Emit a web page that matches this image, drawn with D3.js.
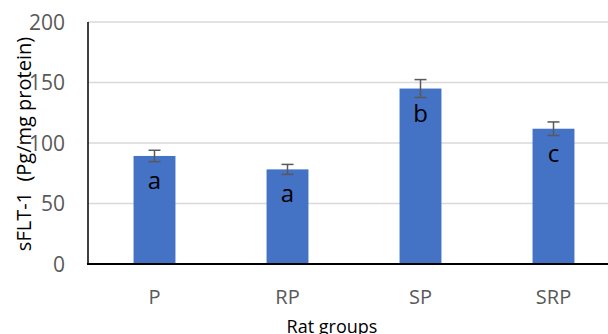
<!DOCTYPE html>
<html>
<head>
    <script src="https://d3js.org/d3.v7.min.js"></script>
    <style>
        body { margin: 0; background: white; }
        text { font-family: "Open Sans", "Liberation Sans", sans-serif; }
    </style>
</head>
<body>
    <svg id="chart"></svg>
    <script>
        // chart data
        var groups = ['P', 'RP', 'SP', 'SRP'];
        var means = [89.3, 78.2, 145, 111.8];
        var errors = [4.7, 4.1, 7.4, 5.6];
        var letters = ['a', 'a', 'b', 'c'];
        var yTicks = [0, 50, 100, 150, 200];

        var width = 608, height = 334;
        var plotLeft = 88, plotRight = 620, plotTop = 22, plotBottom = 264;

        var svg = d3.select('#chart')
            .attr('width', width)
            .attr('height', height);

        var x = d3.scaleBand()
            .domain(groups)
            .range([plotLeft, plotRight])
            .paddingInner(0.685)
            .paddingOuter(0.3425);

        var y = d3.scaleLinear()
            .domain([0, 200])
            .range([plotBottom, plotTop]);

        // gridlines
        svg.append('g')
            .selectAll('line')
            .data(yTicks.slice(1))
            .enter().append('line')
            .attr('x1', plotLeft).attr('x2', width)
            .attr('y1', d => y(d)).attr('y2', d => y(d))
            .attr('stroke', '#d9d9d9')
            .attr('stroke-width', 1.3);

        // y tick labels
        svg.append('g')
            .selectAll('text')
            .data(yTicks)
            .enter().append('text')
            .attr('x', 65)
            .attr('y', d => y(d))
            .attr('dy', '0.36em')
            .attr('text-anchor', 'end')
            .attr('fill', '#595959')
            .style('font-size', '21px')
            .text(d => d);

        // bars
        svg.append('g')
            .selectAll('rect')
            .data(groups)
            .enter().append('rect')
            .attr('x', d => x(d))
            .attr('y', (d, i) => y(means[i]))
            .attr('width', x.bandwidth())
            .attr('height', (d, i) => y(0) - y(means[i]))
            .attr('fill', '#4472c4');

        // error bars
        var eb = svg.append('g')
            .attr('stroke', '#595959')
            .attr('stroke-width', 1.5);
        groups.forEach(function (g, i) {
            var cx = x(g) + x.bandwidth() / 2;
            var hi = y(means[i] + errors[i]), lo = y(means[i] - errors[i]);
            eb.append('line').attr('x1', cx).attr('x2', cx).attr('y1', hi).attr('y2', lo);
            eb.append('line').attr('x1', cx - 6).attr('x2', cx + 6).attr('y1', hi).attr('y2', hi);
            eb.append('line').attr('x1', cx - 6).attr('x2', cx + 6).attr('y1', lo).attr('y2', lo);
        });

        // significance letters
        svg.append('g')
            .selectAll('text')
            .data(groups)
            .enter().append('text')
            .attr('x', d => x(d) + x.bandwidth() / 2)
            .attr('y', (d, i) => y(means[i]) + 33)
            .attr('text-anchor', 'middle')
            .attr('fill', '#000')
            .style('font-size', '24px')
            .text((d, i) => letters[i]);

        // axis lines
        svg.append('line')
            .attr('x1', plotLeft).attr('x2', plotLeft)
            .attr('y1', plotTop).attr('y2', plotBottom)
            .attr('stroke', '#000').attr('stroke-width', 1.5);
        svg.append('line')
            .attr('x1', plotLeft - 1).attr('x2', width)
            .attr('y1', plotBottom).attr('y2', plotBottom)
            .attr('stroke', '#000').attr('stroke-width', 2);

        // category labels
        svg.append('g')
            .selectAll('text')
            .data(groups)
            .enter().append('text')
            .attr('x', d => x(d) + x.bandwidth() / 2)
            .attr('y', 304)
            .attr('text-anchor', 'middle')
            .attr('fill', '#595959')
            .style('font-size', '20px')
            .text(d => d);

        // axis titles
        svg.append('text')
            .attr('x', 332)
            .attr('y', 333)
            .attr('text-anchor', 'middle')
            .attr('fill', '#000')
            .style('font-size', '18px')
            .text('Rat groups');

        svg.append('text')
            .attr('transform', 'translate(31,144) rotate(-90)')
            .attr('text-anchor', 'middle')
            .attr('fill', '#000')
            .style('font-size', '20px')
            .style('white-space', 'pre')
            .text('sFLT-1  (Pg/mg protein)');
    </script>
</body>
</html>
